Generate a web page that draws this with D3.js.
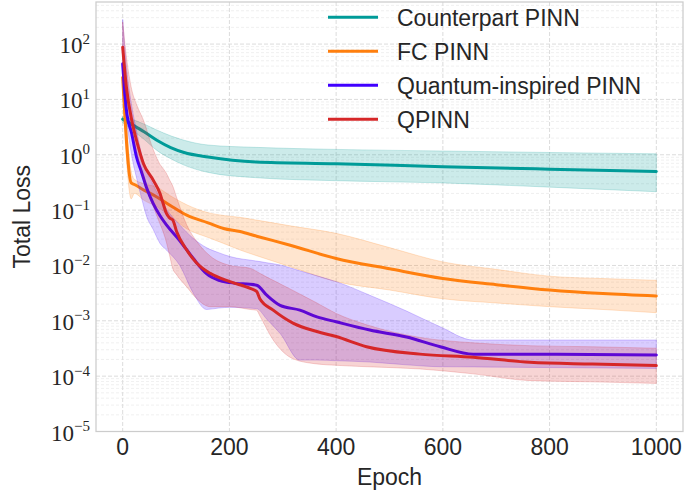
<!DOCTYPE html>
<html>
<head>
<meta charset="utf-8">
<script src="https://cdn.jsdelivr.net/npm/d3@7"></script>
<style>
  html, body { margin: 0; padding: 0; background: #ffffff; }
  svg { display: block; }
</style>
</head>
<body>
<svg id="chart" width="685" height="492"></svg>
<script>
// ---------------- DATA ----------------
const seriesNames = ["Counterpart PINN", "FC PINN", "Quantum-inspired PINN", "QPINN"];
const xTicks = [0, 200, 400, 600, 800, 1000];
const yTickExponents = [-5, -4, -3, -2, -1, 0, 1, 2];

// Counterpart PINN
const cpEpochs = [0, 20, 40, 64, 90, 115, 160, 250, 400, 600, 800, 1000];
const cpMean   = [4.4, 3.4, 2.6, 1.83, 1.35, 1.1, 0.91, 0.74, 0.69, 0.61, 0.55, 0.5];
const cpUpper  = [5.0, 4.3, 3.6, 2.8, 2.2, 1.83, 1.5, 1.36, 1.25, 1.17, 1.1, 1.04];
const cpLower  = [3.8, 2.7, 1.9, 1.2, 0.85, 0.65, 0.48, 0.385, 0.34, 0.31, 0.26, 0.215];

// FC PINN
const fcEpochs = [0, 16, 22, 40, 64, 90, 120, 160, 189, 220, 251, 314, 400, 500, 600, 700, 800, 900, 1000];
const fcMean   = [25, 0.31, 0.29, 0.23, 0.173, 0.12, 0.081, 0.059, 0.0466, 0.041, 0.0338, 0.0232, 0.0134, 0.0087, 0.0058, 0.0045, 0.0036, 0.0031, 0.0028];
const fcUpper  = [40, 0.5, 0.36, 0.3, 0.26, 0.18, 0.125, 0.09, 0.08, 0.074, 0.066, 0.052, 0.038, 0.021, 0.0116, 0.0085, 0.0064, 0.0058, 0.0054];
const fcLower  = [15, 0.16, 0.2, 0.15, 0.115, 0.076, 0.046, 0.032, 0.025, 0.019, 0.015, 0.0095, 0.0051, 0.0036, 0.0025, 0.0021, 0.0018, 0.0016, 0.0014];

// Quantum-inspired PINN
const qiEpochs = [0, 7, 17, 26, 35, 45, 57, 70, 82, 107, 132, 157, 180, 201, 251, 270, 295, 332, 364, 400, 463, 532, 595, 657, 800, 1000];
const qiMean   = [44, 6.4, 2.4, 0.91, 0.5, 0.25, 0.132, 0.079, 0.054, 0.028, 0.0135, 0.0071, 0.0054, 0.0049, 0.0044, 0.0029, 0.0019, 0.00156, 0.00118, 0.00096, 0.00068, 0.00051, 0.00034, 0.00025, 0.00025, 0.00024];
const qiUpper  = [280, 40, 7.6, 2.7, 1.06, 0.5, 0.29, 0.166, 0.105, 0.054, 0.031, 0.021, 0.017, 0.0145, 0.012, 0.0112, 0.0102, 0.008, 0.0065, 0.0051, 0.0029, 0.0015, 0.00078, 0.00045, 0.00045, 0.00045];
const qiLower  = [16, 4.4, 0.95, 0.38, 0.17, 0.076, 0.045, 0.025, 0.019, 0.01, 0.0032, 0.0016, 0.0017, 0.00175, 0.00166, 0.00107, 0.00059, 0.000195, 0.000195, 0.00019, 0.00018, 0.00016, 0.000148, 0.000147, 0.000143, 0.000138];

// QPINN
const qpEpochs = [0, 7, 17, 26, 39, 57, 70, 76, 82, 88, 94, 101, 120, 139, 164, 201, 239, 251, 257, 282, 320, 364, 400, 457, 557, 657, 763, 880, 1000];
const qpMean   = [88, 16.7, 4.2, 1.82, 0.69, 0.35, 0.2, 0.13, 0.087, 0.072, 0.066, 0.041, 0.019, 0.011, 0.0072, 0.0051, 0.00385, 0.0034, 0.0025, 0.00156, 0.0009, 0.00064, 0.00052, 0.00034, 0.00025, 0.00022, 0.000178, 0.000165, 0.000155];
const qpUpper  = [250, 59, 15, 8.1, 4.2, 1.26, 0.67, 0.56, 0.46, 0.35, 0.27, 0.17, 0.054, 0.027, 0.0148, 0.01, 0.0089, 0.0078, 0.0072, 0.0054, 0.0035, 0.0021, 0.00136, 0.00085, 0.0005, 0.0004, 0.000355, 0.00034, 0.00032];
const qpLower  = [25, 10.3, 2.9, 1.15, 0.35, 0.118, 0.056, 0.04, 0.026, 0.015, 0.0087, 0.0068, 0.0041, 0.0025, 0.0018, 0.0018, 0.0016, 0.00155, 0.00123, 0.00045, 0.000204, 0.000166, 0.000157, 0.000148, 0.000135, 0.00011, 0.000083, 0.000079, 0.000074];

const colors = ["#009b98", "#ff7f0e", "#4000ff", "#d62728"];

// ---------------- CHART ----------------
const svg = d3.select("#chart");
const L = 96, R = 683, T = 2, B = 431.5;

const x = d3.scaleLinear().domain([-50, 1050]).range([L, R]);
const y = d3.scaleLog().domain([1e-5, Math.pow(10, 2.76)]).range([B, T]);

// clip
svg.append("defs").append("clipPath").attr("id", "plotclip")
  .append("rect").attr("x", L).attr("y", T).attr("width", R - L).attr("height", B - T);

// minor grid (y)
const minorVals = [];
for (let e = -5; e <= 2; e++) for (let m = 2; m <= 9; m++) {
  const v = m * Math.pow(10, e);
  if (v < y.domain()[1]) minorVals.push(v);
}
svg.append("g").selectAll("line").data(minorVals).join("line")
  .attr("x1", L).attr("x2", R)
  .attr("y1", d => y(d)).attr("y2", d => y(d))
  .attr("stroke", "#ececec").attr("stroke-width", 0.8)
  .attr("stroke-dasharray", "3,2");

// major grid
const yMajor = yTickExponents.map(e => Math.pow(10, e));
svg.append("g").selectAll("line").data(yMajor).join("line")
  .attr("x1", L).attr("x2", R)
  .attr("y1", d => y(d)).attr("y2", d => y(d))
  .attr("stroke", "#dcdcdc").attr("stroke-width", 1)
  .attr("stroke-dasharray", "4,2");
svg.append("g").selectAll("line").data(xTicks).join("line")
  .attr("x1", d => x(d)).attr("x2", d => x(d))
  .attr("y1", T).attr("y2", B)
  .attr("stroke", "#dcdcdc").attr("stroke-width", 1)
  .attr("stroke-dasharray", "4,2");

// series
const series = [
  { ep: cpEpochs, mean: cpMean, lo: cpLower, hi: cpUpper },
  { ep: fcEpochs, mean: fcMean, lo: fcLower, hi: fcUpper },
  { ep: qiEpochs, mean: qiMean, lo: qiLower, hi: qiUpper },
  { ep: qpEpochs, mean: qpMean, lo: qpLower, hi: qpUpper }
];

const plot = svg.append("g").attr("clip-path", "url(#plotclip)");
const curve = d3.curveMonotoneX;
series.forEach((s, i) => {
  const pts = s.ep.map((e, k) => ({ e, m: s.mean[k], lo: s.lo[k], hi: s.hi[k] }));
  const area = d3.area().x(d => x(d.e)).y0(d => y(d.lo)).y1(d => y(d.hi)).curve(curve);
  const line = d3.line().x(d => x(d.e)).y(d => y(d.m)).curve(curve);
  plot.append("path").attr("d", area(pts))
    .attr("fill", colors[i]).attr("fill-opacity", 0.2)
    .attr("stroke", colors[i]).attr("stroke-opacity", 0.2).attr("stroke-width", 1);
  plot.append("path").attr("d", line(pts))
    .attr("fill", "none").attr("stroke", colors[i]).attr("stroke-width", 3)
    .attr("stroke-linejoin", "round").attr("stroke-linecap", "round");
});

// frame
svg.append("rect").attr("x", L).attr("y", T).attr("width", R - L).attr("height", B - T)
  .attr("fill", "none").attr("stroke", "#cccccc").attr("stroke-width", 1.25);

// x tick labels
svg.append("g").selectAll("text").data(xTicks).join("text")
  .attr("x", d => x(d)).attr("y", 455)
  .attr("text-anchor", "middle")
  .attr("font-family", "'Liberation Sans', Arial, sans-serif")
  .attr("font-size", 23).attr("fill", "#262626")
  .text(d => d);

// y tick labels (10^k)
const yt = svg.append("g").selectAll("text").data(yTickExponents).join("text")
  .attr("x", 90).attr("y", d => y(Math.pow(10, d)) + 9)
  .attr("text-anchor", "end")
  .attr("font-family", "'Liberation Serif', 'Times New Roman', serif")
  .attr("font-size", 23).attr("fill", "#262626");
yt.append("tspan").text("10");
yt.append("tspan").attr("dy", -9.5).attr("font-size", 15)
  .text(d => d < 0 ? "\u2212" + Math.abs(d) : String(d));

// axis labels
svg.append("text").attr("x", (L + R) / 2).attr("y", 485)
  .attr("text-anchor", "middle")
  .attr("font-family", "'Liberation Sans', Arial, sans-serif")
  .attr("font-size", 23).attr("fill", "#262626").text("Epoch");
svg.append("text")
  .attr("transform", `translate(30, ${(T + B) / 2}) rotate(-90)`)
  .attr("text-anchor", "middle")
  .attr("font-family", "'Liberation Sans', Arial, sans-serif")
  .attr("font-size", 23).attr("fill", "#262626").text("Total Loss");

// legend
const lg = svg.append("g");
seriesNames.forEach((name, i) => {
  const cy = 17.3 + i * 34;
  lg.append("line").attr("x1", 328).attr("x2", 378).attr("y1", cy).attr("y2", cy)
    .attr("stroke", colors[i]).attr("stroke-width", 3);
  lg.append("text").attr("x", 397).attr("y", cy + 8.3)
    .attr("font-family", "'Liberation Sans', Arial, sans-serif")
    .attr("font-size", 23).attr("fill", "#262626").text(name);
});
</script>
</body>
</html>
